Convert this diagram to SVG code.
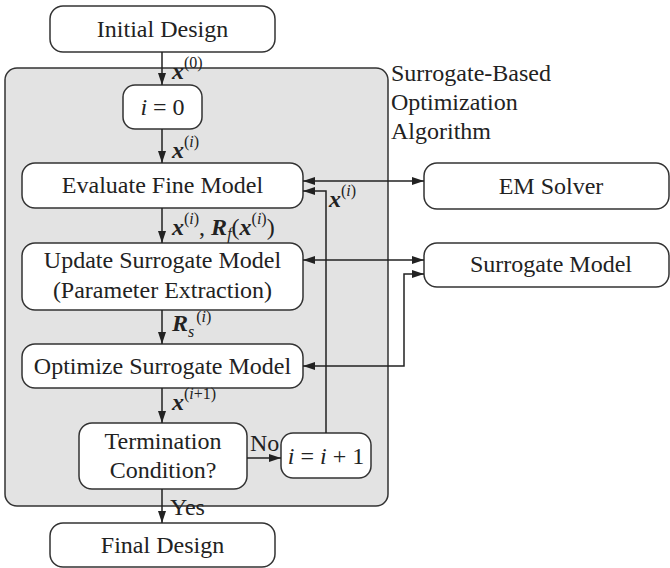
<svg xmlns="http://www.w3.org/2000/svg" width="670" height="568" viewBox="0 0 670 568">
  <defs>
    <marker id="arrow" viewBox="0 0 12 8" refX="12" refY="4" markerWidth="12" markerHeight="8" markerUnits="userSpaceOnUse" orient="auto-start-reverse">
      <path d="M0,0 L12,4 L0,8 Z" fill="#222"/>
    </marker>
    <style>
      text { font-family: 'Liberation Serif', 'DejaVu Serif', serif; font-size: 24px; fill: #222; }
      .box { fill: #fff; stroke: #333; stroke-width: 1.5; }
      .frame { fill: #e3e3e3; stroke: #333; stroke-width: 1.5; }
      .mid { text-anchor: middle; }
      .bx { font-weight: bold; font-style: italic; }
      .sup { font-size: 16px; }
      .it { font-style: italic; }
      .wire { fill: none; stroke: #222; stroke-width: 1.5; }
    </style>
  </defs>

  <!-- algorithm frame -->
  <g id="algorithm-frame">
    <rect class="frame" x="5" y="68" width="383" height="438" rx="12"/>
    <text x="391" y="81">Surrogate-Based</text>
    <text x="391" y="110">Optimization</text>
    <text x="391" y="139">Algorithm</text>
  </g>

  <g id="initial-design">
    <rect class="box" x="50" y="6" width="225" height="46" rx="13"/>
    <text class="mid" x="162.5" y="37">Initial Design</text>
  </g>

  <g id="init-counter">
    <rect class="box" x="123" y="85" width="79" height="44" rx="12"/>
    <text class="mid" x="162.5" y="115"><tspan class="it">i</tspan> = 0</text>
  </g>

  <g id="evaluate-fine">
    <rect class="box" x="22" y="163" width="281" height="45" rx="13"/>
    <text class="mid" x="162.5" y="193">Evaluate Fine Model</text>
  </g>

  <g id="update-surrogate">
    <rect class="box" x="22" y="243" width="281" height="67" rx="13"/>
    <text class="mid" x="162.5" y="268">Update Surrogate Model</text>
    <text class="mid" x="162.5" y="298">(Parameter Extraction)</text>
  </g>

  <g id="optimize-surrogate">
    <rect class="box" x="22" y="344" width="281" height="44" rx="13"/>
    <text class="mid" x="162.5" y="374">Optimize Surrogate Model</text>
  </g>

  <g id="termination">
    <rect class="box" x="79" y="423" width="168" height="66" rx="13"/>
    <text class="mid" x="163" y="449">Termination</text>
    <text class="mid" x="163" y="478">Condition?</text>
  </g>

  <g id="increment">
    <rect class="box" x="281" y="433" width="90" height="45" rx="12"/>
    <text class="mid" x="326" y="464"><tspan class="it">i</tspan> = <tspan class="it">i</tspan> + 1</text>
  </g>

  <g id="final-design">
    <rect class="box" x="50" y="523" width="225" height="44" rx="13"/>
    <text class="mid" x="162.5" y="553">Final Design</text>
  </g>

  <g id="em-solver">
    <rect class="box" x="424" y="163" width="245" height="46" rx="13"/>
    <text class="mid" x="551" y="194">EM Solver</text>
  </g>

  <g id="surrogate-model">
    <rect class="box" x="424" y="243" width="245" height="44" rx="13"/>
    <text class="mid" x="551" y="272">Surrogate Model</text>
  </g>

  <!-- connectors -->
  <g id="connectors">
    <line class="wire" x1="162" y1="52" x2="162" y2="85" marker-end="url(#arrow)"/>
    <line class="wire" x1="162" y1="129" x2="162" y2="163" marker-end="url(#arrow)"/>
    <line class="wire" x1="162" y1="208" x2="162" y2="243" marker-end="url(#arrow)"/>
    <line class="wire" x1="162" y1="310" x2="162" y2="344" marker-end="url(#arrow)"/>
    <line class="wire" x1="162" y1="388" x2="162" y2="423" marker-end="url(#arrow)"/>
    <line class="wire" x1="162" y1="489" x2="162" y2="523" marker-end="url(#arrow)"/>
    <line class="wire" x1="247" y1="458" x2="281" y2="458" marker-end="url(#arrow)"/>
    <polyline class="wire" points="326,433 326,191 303,191" marker-end="url(#arrow)"/>
    <line class="wire" x1="303" y1="181" x2="424" y2="181" marker-start="url(#arrow)" marker-end="url(#arrow)"/>
    <line class="wire" x1="303" y1="260" x2="424" y2="260" marker-start="url(#arrow)" marker-end="url(#arrow)"/>
    <polyline class="wire" points="303,366 404,366 404,274 424,274" marker-start="url(#arrow)" marker-end="url(#arrow)"/>

    <!-- connector labels -->
    <text x="172" y="79"><tspan class="bx">x</tspan><tspan class="sup" dy="-11">(0)</tspan></text>
    <text x="172" y="158"><tspan class="bx">x</tspan><tspan class="sup" dy="-11">(<tspan class="it">i</tspan>)</tspan></text>
    <text x="172" y="235"><tspan class="bx">x</tspan><tspan class="sup" dy="-11">(<tspan class="it">i</tspan>)</tspan><tspan dy="11">, </tspan><tspan class="bx">R</tspan><tspan class="sup it" dy="4">f</tspan><tspan dy="-4">(</tspan><tspan class="bx">x</tspan><tspan class="sup" dy="-11">(<tspan class="it">i</tspan>)</tspan><tspan dy="11">)</tspan></text>
    <text x="172" y="331"><tspan class="bx">R</tspan><tspan class="sup it" dy="6">s</tspan><tspan class="sup" dy="-15" dx="2">(<tspan class="it">i</tspan>)</tspan></text>
    <text x="172" y="410"><tspan class="bx">x</tspan><tspan class="sup" dy="-11">(<tspan class="it">i</tspan>+1)</tspan></text>
    <text x="329" y="207"><tspan class="bx">x</tspan><tspan class="sup" dy="-11">(<tspan class="it">i</tspan>)</tspan></text>
    <text x="250" y="451">No</text>
    <text x="170" y="515">Yes</text>
  </g>
</svg>
